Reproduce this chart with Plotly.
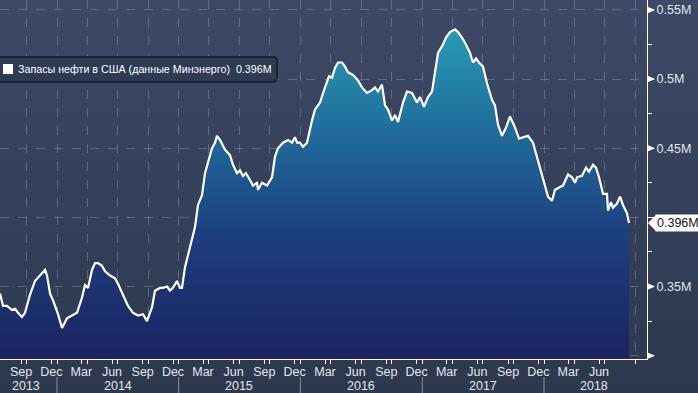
import base64
import plotly.graph_objects as go

# ---------------- data ----------------
dates = [
    '2013-07-14', '2013-07-23', '2013-08-04', '2013-08-19', '2013-08-28', '2013-09-06', '2013-09-18', '2013-09-27', '2013-10-12', '2013-10-27',
    '2013-11-11', '2013-11-26', '2013-12-02', '2013-12-11', '2013-12-20', '2014-01-04', '2014-01-16', '2014-01-31', '2014-02-15', '2014-03-02',
    '2014-03-17', '2014-03-26', '2014-04-04', '2014-04-16', '2014-04-25', '2014-05-04', '2014-05-16', '2014-05-25', '2014-06-09', '2014-06-24',
    '2014-07-03', '2014-07-18', '2014-08-02', '2014-08-17', '2014-09-01', '2014-09-16', '2014-09-28', '2014-10-13', '2014-10-22', '2014-11-06',
    '2014-11-15', '2014-11-27', '2014-12-06', '2014-12-15', '2014-12-27', '2015-01-05', '2015-01-11', '2015-01-20', '2015-02-04', '2015-02-19',
    '2015-02-28', '2015-03-12', '2015-03-21', '2015-03-30', '2015-04-11', '2015-04-20', '2015-04-26', '2015-05-05', '2015-05-20', '2015-06-04',
    '2015-06-13', '2015-06-25', '2015-07-04', '2015-07-13', '2015-07-22', '2015-08-03', '2015-08-12', '2015-08-24', '2015-08-27', '2015-09-08',
    '2015-09-23', '2015-10-08', '2015-10-17', '2015-10-26', '2015-11-10', '2015-11-25', '2015-12-07', '2015-12-16', '2015-12-22', '2015-12-31',
    '2016-01-09', '2016-01-21', '2016-01-30', '2016-02-05', '2016-02-14', '2016-02-29', '2016-03-15', '2016-03-27', '2016-04-05', '2016-04-14',
    '2016-04-23', '2016-05-05', '2016-05-14', '2016-05-23', '2016-06-07', '2016-06-22', '2016-07-04', '2016-07-19', '2016-08-03', '2016-08-12',
    '2016-08-21', '2016-09-02', '2016-09-11', '2016-09-20', '2016-10-02', '2016-10-11', '2016-10-20', '2016-11-04', '2016-11-16', '2016-12-01',
    '2016-12-16', '2016-12-25', '2017-01-06', '2017-01-18', '2017-01-30', '2017-02-08', '2017-02-17', '2017-03-04', '2017-03-13', '2017-03-25',
    '2017-04-09', '2017-04-18', '2017-04-30', '2017-05-12', '2017-05-24', '2017-06-02', '2017-06-11', '2017-06-20', '2017-07-02', '2017-07-14',
    '2017-07-29', '2017-08-07', '2017-08-16', '2017-08-28', '2017-09-09', '2017-09-21', '2017-10-06', '2017-10-18', '2017-10-30', '2017-11-14',
    '2017-11-29', '2017-12-14', '2017-12-29', '2018-01-13', '2018-01-25', '2018-02-03', '2018-02-18', '2018-02-27', '2018-03-14', '2018-03-26',
    '2018-04-04', '2018-04-10', '2018-04-25', '2018-05-07', '2018-05-16', '2018-05-28', '2018-06-06', '2018-06-15', '2018-06-27', '2018-07-09',
    '2018-07-12', '2018-07-21', '2018-07-27', '2018-08-08', '2018-08-17', '2018-08-26', '2018-09-07', '2018-09-13',
]
stocks = [
    0.345, 0.336, 0.336, 0.333, 0.334, 0.331, 0.328, 0.331, 0.344, 0.354,
    0.358, 0.362, 0.358, 0.345, 0.340, 0.330, 0.320, 0.327, 0.329, 0.331,
    0.342, 0.351, 0.349, 0.362, 0.367, 0.367, 0.365, 0.361, 0.358, 0.356,
    0.352, 0.344, 0.336, 0.331, 0.329, 0.330, 0.325, 0.335, 0.347, 0.349,
    0.349, 0.350, 0.347, 0.349, 0.354, 0.349, 0.349, 0.364, 0.378, 0.393,
    0.409, 0.416, 0.432, 0.439, 0.450, 0.454, 0.459, 0.456, 0.449, 0.445,
    0.438, 0.432, 0.434, 0.430, 0.432, 0.427, 0.423, 0.425, 0.420, 0.425,
    0.423, 0.429, 0.444, 0.450, 0.454, 0.456, 0.454, 0.458, 0.454, 0.454,
    0.451, 0.454, 0.465, 0.470, 0.478, 0.483, 0.494, 0.502, 0.501, 0.508,
    0.512, 0.512, 0.509, 0.505, 0.503, 0.499, 0.494, 0.490, 0.492, 0.494,
    0.491, 0.496, 0.481, 0.478, 0.470, 0.474, 0.469, 0.483, 0.491, 0.490,
    0.483, 0.487, 0.480, 0.487, 0.491, 0.507, 0.519, 0.525, 0.530, 0.534,
    0.536, 0.534, 0.530, 0.525, 0.519, 0.512, 0.515, 0.512, 0.509, 0.497,
    0.485, 0.481, 0.467, 0.459, 0.465, 0.473, 0.465, 0.457, 0.458, 0.459,
    0.454, 0.441, 0.427, 0.415, 0.412, 0.420, 0.422, 0.423, 0.431, 0.429,
    0.425, 0.429, 0.430, 0.436, 0.433, 0.438, 0.436, 0.429, 0.417, 0.417,
    0.405, 0.411, 0.407, 0.410, 0.415, 0.409, 0.403, 0.396,
]
series_name = 'Запасы нефти в США (данные Минэнерго)'
last_label = '0.396M'

month_tick_dates = [
    '2013-09-15', '2013-12-15', '2014-03-15', '2014-06-15', '2014-09-15', '2014-12-15',
    '2015-03-15', '2015-06-15', '2015-09-15', '2015-12-15', '2016-03-15', '2016-06-15',
    '2016-09-15', '2016-12-15', '2017-03-15', '2017-06-15', '2017-09-15', '2017-12-15',
    '2018-03-15', '2018-06-15',
]
month_tick_text = ['Sep', 'Dec', 'Mar', 'Jun', 'Sep', 'Dec', 'Mar', 'Jun', 'Sep', 'Dec',
                   'Mar', 'Jun', 'Sep', 'Dec', 'Mar', 'Jun', 'Sep', 'Dec', 'Mar', 'Jun']
quarter_starts = [
    '2013-10-01', '2014-01-01', '2014-04-01', '2014-07-01', '2014-10-01', '2015-01-01',
    '2015-04-01', '2015-07-01', '2015-10-01', '2016-01-01', '2016-04-01', '2016-07-01',
    '2016-10-01', '2017-01-01', '2017-04-01', '2017-07-01', '2017-10-01', '2018-01-01',
    '2018-04-01', '2018-07-01', '2018-10-01',
]
year_labels = ['2013', '2014', '2015', '2016', '2017', '2018']
year_label_dates = ['2013-10-01', '2014-07-02', '2015-07-02', '2016-07-02', '2017-07-02', '2018-06-01']
year_starts = ['2014-01-01', '2015-01-01', '2016-01-01', '2017-01-01', '2018-01-01']

y_tick_vals = [0.30, 0.35, 0.40, 0.45, 0.50, 0.55]
y_tick_text = ['', '0.35M', '', '0.45M', '0.5M', '0.55M']
y_arrow_vals = [0.30, 0.35, 0.45, 0.50, 0.55]
y_minor_vals = [0.325, 0.375, 0.425, 0.475, 0.525]

x_range = ['2013-07-14', '2018-11-06']
y_range = [0.2976, 0.5572]

# ---------------- figure ----------------
W, H = 698, 393
ML, MR, MT, MB = 0, 51, 0, 34
PW, PH = W - ML - MR, H - MT - MB

FONT = 'Liberation Sans, Arial, sans-serif'
TXT = '#e4e6ea'

svg = ("<svg xmlns='http://www.w3.org/2000/svg' width='10' height='100' viewBox='0 0 10 100' "
       "preserveAspectRatio='none'><defs><linearGradient id='g' x1='0' y1='0' x2='0' y2='1'>"
       "<stop offset='0' stop-color='#3d4966'/><stop offset='1' stop-color='#2d384f'/>"
       "</linearGradient></defs><rect width='10' height='100' fill='url(#g)'/></svg>")
bg_uri = 'data:image/svg+xml;base64,' + base64.b64encode(svg.encode()).decode()

fig = go.Figure()
fig.add_trace(go.Scatter(
    x=dates, y=stocks, mode='lines',
    line=dict(color='white', width=2.2),
    fill='tozeroy',
    fillgradient=dict(type='vertical',
                      colorscale=[[0, '#1b2461'], [0.35, '#1d3d7d'], [0.65, '#1f6898'], [1, '#2a9cb6']],
                      start=0.30, stop=0.54),
    hoverinfo='skip', showlegend=False,
))

grid_col = 'rgba(125,140,170,0.55)'

fig.update_xaxes(
    type='date', range=x_range, automargin=False,
    tickmode='array', tickvals=month_tick_dates, ticktext=month_tick_text,
    ticks='outside', ticklen=4, tickcolor='white', tickwidth=1,
    ticklabelstandoff=-3,
    showgrid=False,
    minor=dict(tickmode='array', tickvals=quarter_starts, ticks='outside', ticklen=4,
               tickcolor='white', showgrid=True, gridcolor=grid_col, griddash='dash', gridwidth=1),
    showline=True, linecolor='white', linewidth=1.2,
    tickfont=dict(family=FONT, size=12.5, color=TXT),
    zeroline=False, layer='above traces', fixedrange=True,
)
fig.update_yaxes(
    range=y_range, side='right', automargin=False,
    tickmode='array', tickvals=y_tick_vals, ticktext=y_tick_text,
    ticks='outside', ticklen=6, tickcolor='white', tickwidth=1,
    showgrid=True, gridcolor=grid_col, griddash='dash', gridwidth=1,
    minor=dict(tickmode='array', tickvals=y_minor_vals, ticks='outside', ticklen=4,
               tickcolor='white', showgrid=False),
    showline=True, linecolor='white', linewidth=1.2,
    tickfont=dict(family=FONT, size=12.5, color=TXT),
    zeroline=False, layer='above traces', fixedrange=True,
)

shapes = []
annotations = []

# triangle markers on y axis
for v in y_arrow_vals:
    shapes.append(dict(type='path', xref='paper', yref='y', xsizemode='pixel', ysizemode='pixel',
                       xanchor=1, yanchor=v, path='M0,3.5 L8,0 L0,-3.5 Z',
                       fillcolor='white', line=dict(width=0)))

# last value badge
shapes.append(dict(type='path', xref='paper', yref='y', xsizemode='pixel', ysizemode='pixel',
                   xanchor=1, yanchor=stocks[-1], path='M1,0 L9,8 L9,-8 Z',
                   fillcolor='white', line=dict(width=0)))
annotations.append(dict(xref='paper', yref='y', x=1, y=stocks[-1], xanchor='left', yanchor='middle',
                        xshift=8, text=last_label, showarrow=False, bgcolor='white',
                        borderpad=1, font=dict(family=FONT, size=12.5, color='#111111')))

# year row: labels and separators
for lab, d in zip(year_labels, year_label_dates):
    annotations.append(dict(xref='x', yref='paper', x=d, y=-(386 - PH) / PH, yanchor='middle',
                            xanchor='center', text=lab, showarrow=False,
                            font=dict(family=FONT, size=12.5, color=TXT)))
for d in year_starts:
    shapes.append(dict(type='line', xref='x', yref='paper', x0=d, x1=d,
                       y0=-(377 - PH) / PH, y1=-(393 - PH) / PH,
                       line=dict(color='#8891a6', width=1)))

# legend box
shapes.append(dict(type='path', xref='paper', yref='paper', xsizemode='pixel', ysizemode='pixel',
                   xanchor=0, yanchor=1,
                   path='M-5,-57 L273,-57 Q277,-57 277,-61 L277,-78 Q277,-82 273,-82 L-5,-82 Z',
                   fillcolor='#2f3a55', line=dict(color='#131826', width=1.5)))
shapes.append(dict(type='path', xref='paper', yref='paper', xsizemode='pixel', ysizemode='pixel',
                   xanchor=0, yanchor=1, path='M3,-64 L13,-64 L13,-74 L3,-74 Z',
                   fillcolor='white', line=dict(width=0)))
annotations.append(dict(xref='paper', yref='paper', x=16 / PW, y=1 - 69.5 / PH, xanchor='left',
                        yanchor='middle', showarrow=False,
                        text=series_name + '  ' + last_label,
                        font=dict(family=FONT, size=10.7, color='white')))

fig.update_layout(
    width=W, height=H,
    margin=dict(l=ML, r=MR, t=MT, b=MB, pad=0, autoexpand=False),
    paper_bgcolor='#343f59', plot_bgcolor='rgba(0,0,0,0)',
    showlegend=False,
    shapes=shapes, annotations=annotations,
    images=[dict(source=bg_uri, xref='paper', yref='paper', x=0, y=1,
                 sizex=W / PW, sizey=H / PH, sizing='stretch', layer='below',
                 xanchor='left', yanchor='top')],
)

fig.write_html(
    'out.html',
    config={'displayModeBar': False},
    post_script="document.body.style.margin='0';document.body.style.overflow='hidden';",
)
